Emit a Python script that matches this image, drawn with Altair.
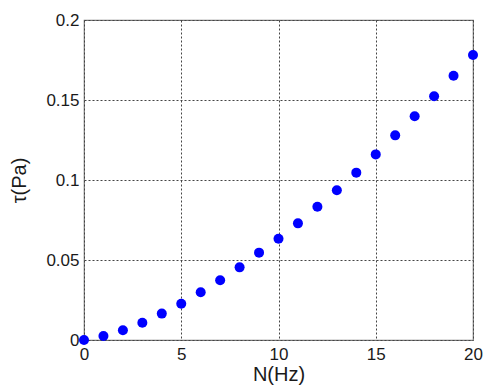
import altair as alt
import pandas as pd

N_hz = [0, 1, 2, 3, 4, 5, 6, 7, 8, 9, 10, 11, 12, 13, 14, 15, 16, 17, 18, 19, 20]
tau_pa = [0.0, 0.0025, 0.0061, 0.0108, 0.0165, 0.0227, 0.0298, 0.0373, 0.0454,
          0.0546, 0.0633, 0.0729, 0.0833, 0.0936, 0.1046, 0.1160, 0.1279,
          0.1398, 0.1523, 0.1652, 0.1781]
x_ticks = [0, 5, 10, 15, 20]
y_ticks = [0, 0.05, 0.1, 0.15, 0.2]

df = pd.DataFrame({"N": N_hz, "tau": tau_pa})

FONT = "Liberation Sans"

chart = alt.Chart(df).mark_circle(size=100, color="#0000FF", opacity=1).encode(
    x=alt.X("N:Q", scale=alt.Scale(domain=[0, 20], nice=False),
            axis=alt.Axis(values=x_ticks, title="N(Hz)", format="d",
                          grid=True, gridDash=[2, 2], gridColor="#444444",
                          gridOpacity=1, domain=False, ticks=False,
                          labelPadding=6, labelFontSize=17, labelFont=FONT,
                          labelColor="#1a1a1a", titleFont=FONT, titleFontSize=20,
                          titleFontWeight="normal", titleColor="#1a1a1a",
                          titlePadding=2, labelFlush=False)),
    y=alt.Y("tau:Q", scale=alt.Scale(domain=[0, 0.2], nice=False),
            axis=alt.Axis(values=y_ticks, title="τ(Pa)", format="~g",
                          grid=True, gridDash=[2, 2], gridColor="#444444",
                          gridOpacity=1, domain=False, ticks=False,
                          labelPadding=5, labelFontSize=17, labelFont=FONT,
                          labelColor="#1a1a1a", titleFont=FONT, titleFontSize=20,
                          titleFontWeight="normal", titleColor="#1a1a1a",
                          titlePadding=16, labelFlush=False)),
).properties(
    width=389, height=320,
    autosize=alt.AutoSizeParams(type="none"),
    padding={"left": 84, "top": 20, "right": 10, "bottom": 51},
).configure_view(
    stroke="#7a7a7a", strokeWidth=1.2
)

chart.save("out.html", embed_options={"renderer": "svg", "actions": False})
